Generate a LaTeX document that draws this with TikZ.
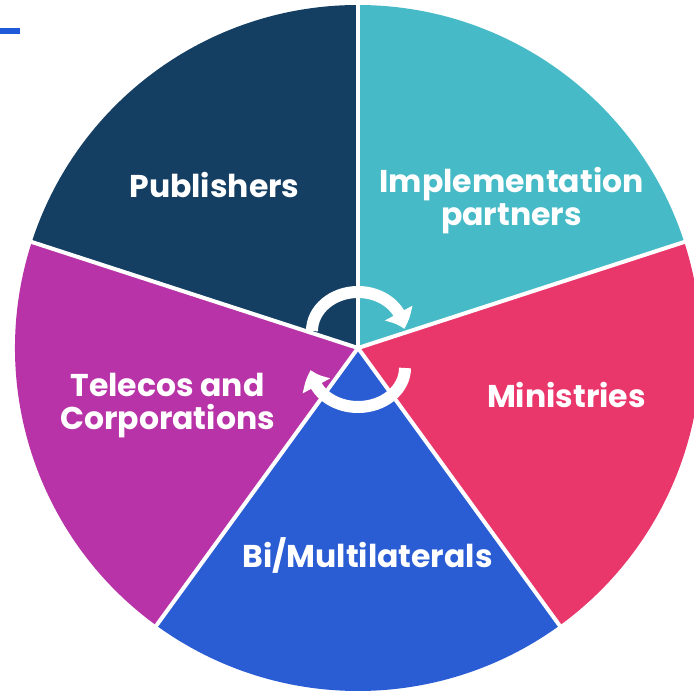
\documentclass[tikz,border=0pt]{standalone}
\usepackage{fontspec}
\setmainfont{Poppins}
\usetikzlibrary{arrows.meta,bending}
\definecolor{pubnavy}{RGB}{20,63,99}
\definecolor{implteal}{RGB}{70,186,198}
\definecolor{minpink}{RGB}{233,55,108}
\definecolor{bilblue}{RGB}{42,92,211}
\definecolor{telmag}{RGB}{184,51,168}
\definecolor{markblue}{RGB}{31,91,216}

\begin{document}
\begin{tikzpicture}[x=1pt, y=1pt,
    seglabel/.style={text=white, align=center, font=\fontsize{31.5}{33}\selectfont\bfseries},
    divider/.style={white, line width=4pt},
    cycarrow/.style={white, line width=12pt, -{Triangle[length=17pt, width=30pt, bend]}}]
    \useasboundingbox (-358,-345) rectangle (336,348);
    \fill[markblue] (-358,314) rectangle (-338,320);
    \coordinate (c) at (0,0);
    \fill[pubnavy] (c) -- (162:343) arc (162:90:343) -- cycle;
    \fill[implteal] (c) -- (90:343) arc (90:18:343) -- cycle;
    \fill[minpink] (c) -- (18:343) arc (18:-54:343) -- cycle;
    \fill[bilblue] (c) -- (-54:343) arc (-54:-126:343) -- cycle;
    \fill[telmag] (c) -- (-126:343) arc (-126:-198:343) -- cycle;
    \draw[divider] (c) -- (90:345);
    \draw[divider] (c) -- (18:345);
    \draw[divider] (c) -- (-54:345);
    \draw[divider] (c) -- (-126:345);
    \draw[divider] (c) -- (162:345);
    \node[seglabel] (pub) at (-143.5,163) {Publishers};
    \node[seglabel] (impl) at (153.5,147) {Implementation\\partners};
    \node[seglabel] (min) at (208.5,-47) {Ministries};
    \node[seglabel] (bil) at (9.5,-207) {Bi/Multilaterals};
    \node[seglabel] (tel) at (-190.5,-58) {Telecos and\\Corporations};
    \draw[cycarrow] (-46,17) arc[start angle=180, end angle=3, x radius=46, y radius=39];
    \draw[cycarrow] (47,-20) arc[start angle=0, end angle=-177, x radius=47, y radius=39];
  \end{tikzpicture}
\end{document}
